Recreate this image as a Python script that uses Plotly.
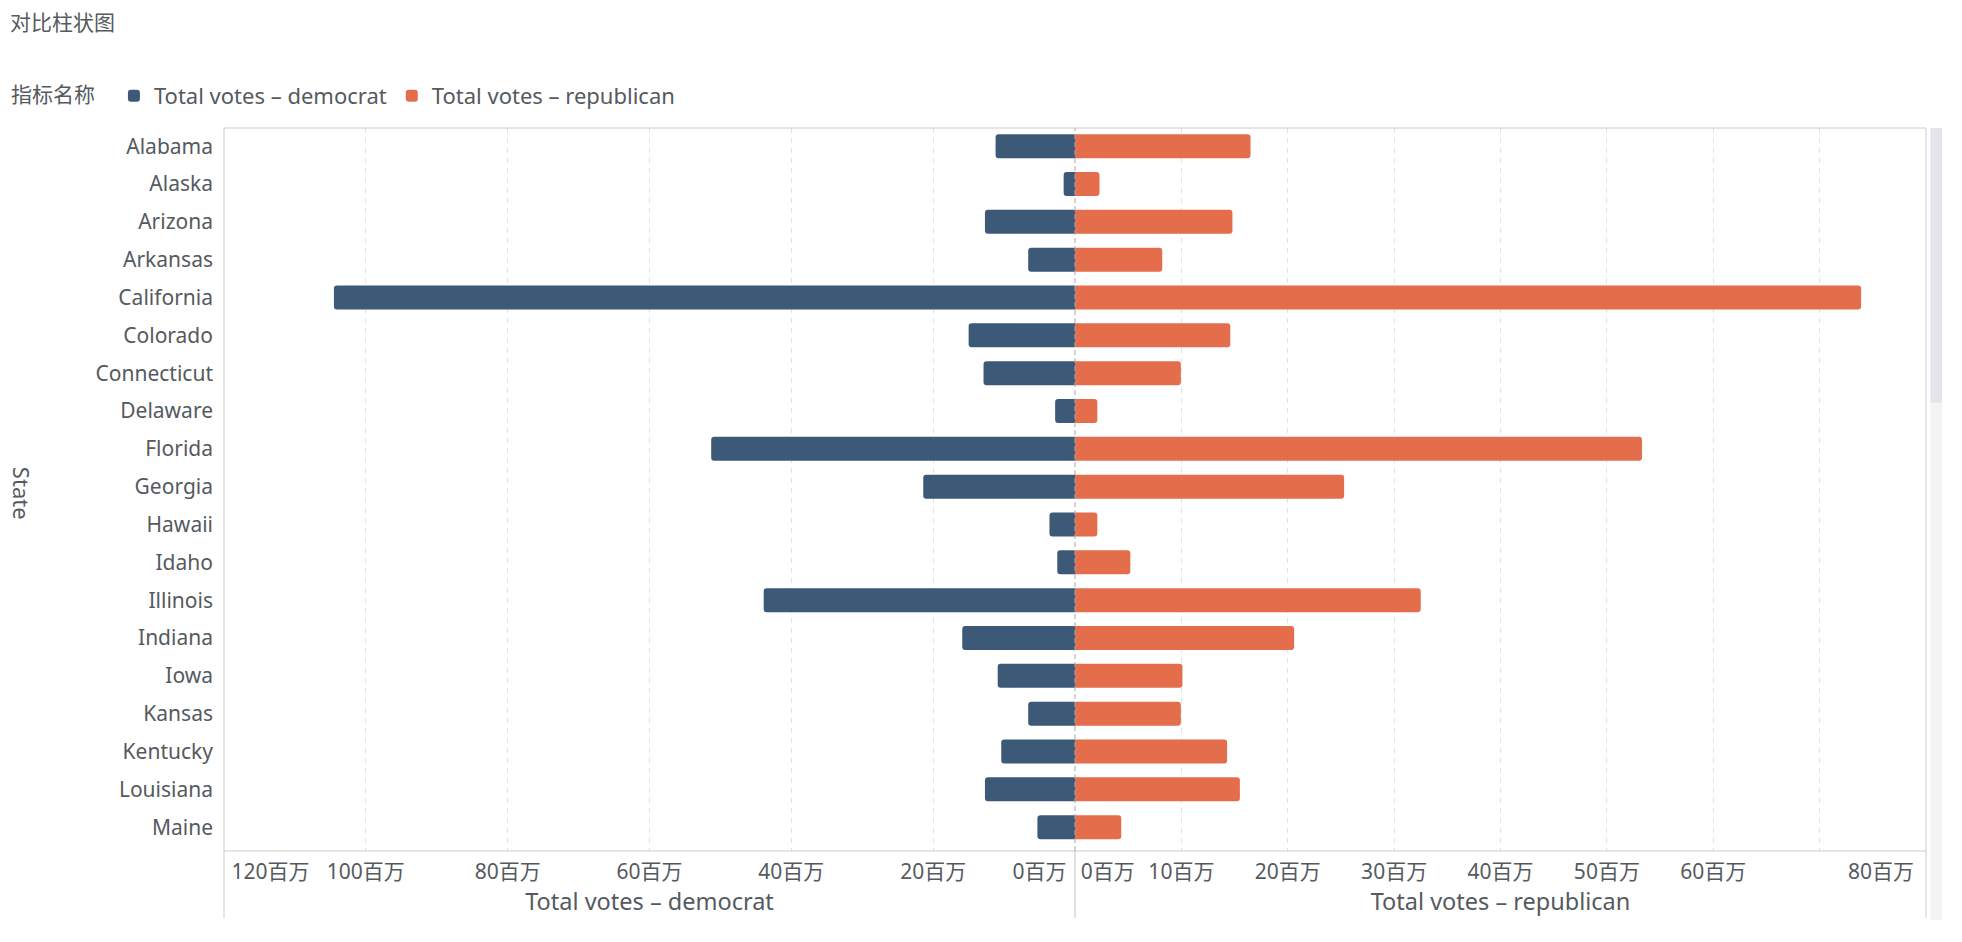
import plotly.graph_objects as go

# ---------------- data (values in millions of votes) ----------------
states = ["Alabama", "Alaska", "Arizona", "Arkansas", "California", "Colorado",
          "Connecticut", "Delaware", "Florida", "Georgia", "Hawaii", "Idaho",
          "Illinois", "Indiana", "Iowa", "Kansas", "Kentucky", "Louisiana", "Maine"]
dem_votes_m = [11.2, 1.6, 12.7, 6.6, 104.5, 15.0, 12.9, 2.8, 51.3, 21.4, 3.6, 2.5,
               43.9, 15.9, 10.9, 6.6, 10.4, 12.7, 5.3]
rep_votes_m = [16.5, 2.3, 14.8, 8.2, 73.9, 14.6, 9.95, 2.1, 53.3, 25.3, 2.1, 5.2,
               32.5, 20.6, 10.1, 9.95, 14.3, 15.5, 4.35]

left_ticks = [0, 20, 40, 60, 80, 100, 120]
right_ticks = [0, 10, 20, 30, 40, 50, 60, 70, 80]
unit = "百万"

series_names = ["Total votes – democrat", "Total votes – republican"]
colors = ["#3c5a77", "#e46d4b"]

FONT = "Noto Sans, Noto Sans CJK SC, sans-serif"
TXT = "#555a60"
NB = "\u00a0"


def lbl(v):
    return f"{v}{unit}"


# tick labels; the end labels are nudged inside the panel like the original
left_text = [lbl(v) for v in left_ticks]
left_text[0] = lbl(0) + NB * 13
left_text[-1] = NB * 17 + lbl(120)
right_text = [lbl(v) for v in right_ticks]
right_text[0] = NB * 12 + lbl(0)
right_text[-2] = ""          # 70 label is hidden in the original
right_text[-1] = ""          # 80 label drawn by the overlay axis below

fig = go.Figure()
fig.add_trace(go.Bar(
    y=states, x=dem_votes_m, orientation="h", name=series_names[0],
    marker=dict(color=colors[0], cornerradius=3, line=dict(width=0)),
    xaxis="x", yaxis="y"))
fig.add_trace(go.Bar(
    y=states, x=rep_votes_m, orientation="h", name=series_names[1],
    marker=dict(color=colors[1], cornerradius=3, line=dict(width=0)),
    xaxis="x2", yaxis="y"))
# empty helper trace so the overlay axis (end label "80百万") gets drawn
fig.add_trace(go.Scatter(x=[], y=[], xaxis="x3", yaxis="y", showlegend=False,
                         hoverinfo="skip", mode="markers"))

axis_common = dict(
    showgrid=True, gridcolor="#e2e2e2", griddash="5px,5px", gridwidth=1,
    zeroline=False, showline=False, ticks="", ticklabelstandoff=6,
    ticklabeloverflow="allow",
    tickfont=dict(family=FONT, size=21, color=TXT),
    fixedrange=True,
)

below = -0.0927  # frame lines run down past the tick labels

fig.update_layout(
    width=1962, height=942,
    margin=dict(l=224, r=36, t=128, b=91, autoexpand=False),
    paper_bgcolor="white", plot_bgcolor="white",
    font=dict(family=FONT, size=21, color=TXT),
    bargap=0.365,
    showlegend=True,
    title=dict(text="对比柱状图", x=10 / 1962, xref="container", xanchor="left",
               y=1 - 23 / 942, yref="container", yanchor="middle",
               font=dict(family=FONT, size=21, color=TXT)),
    legend=dict(orientation="h", x=9 / 1962, xref="container", xanchor="left",
                y=1 - 96 / 942, yref="container", yanchor="middle",
                title=dict(text="指标名称" + NB * 2, side="left",
                           font=dict(family=FONT, size=21, color=TXT)),
                font=dict(family=FONT, size=22, color=TXT),
                traceorder="normal", itemclick=False, itemdoubleclick=False),
    xaxis=dict(domain=[0, 0.5], range=[120, 0], tickmode="array",
               tickvals=left_ticks, ticktext=left_text, anchor="y",
               title=dict(text=series_names[0], standoff=2,
                          font=dict(family=FONT, size=23.5, color=TXT)),
               **axis_common),
    xaxis2=dict(domain=[0.5, 1], range=[0, 80], tickmode="array",
                tickvals=right_ticks, ticktext=right_text, anchor="y",
                title=dict(text=series_names[1], standoff=2,
                           font=dict(family=FONT, size=23.5, color=TXT)),
                **axis_common),
    xaxis3=dict(visible=True, domain=[0.5, 1], range=[0, 80], overlaying="x2",
                anchor="y", side="bottom", tickmode="array",
                tickvals=[right_ticks[-1]], ticktext=[lbl(right_ticks[-1])],
                ticklabelshift=-45, showticklabels=True,
                showgrid=False, zeroline=False, showline=False, ticks="",
                ticklabelstandoff=6, ticklabeloverflow="allow",
                tickfont=dict(family=FONT, size=21, color=TXT), fixedrange=True),
    yaxis=dict(range=[18.63, -0.48], anchor="x", showgrid=False, zeroline=False,
               showline=False, ticks="", ticklabelstandoff=10,
               tickfont=dict(family=FONT, size=21, color=TXT), fixedrange=True),
    annotations=[dict(text="State", textangle=90, x=-0.1187, y=0.494,
                      xref="paper", yref="paper", xanchor="center", yanchor="middle",
                      showarrow=False,
                      font=dict(family=FONT, size=22, color=TXT))],
    shapes=[
        # plot frame
        dict(type="line", xref="paper", yref="paper", x0=0, x1=1, y0=1, y1=1,
             line=dict(color="#cccccc", width=1)),
        dict(type="line", xref="paper", yref="paper", x0=0, x1=1, y0=0, y1=0,
             line=dict(color="#cccccc", width=1)),
        dict(type="line", xref="paper", yref="paper", x0=0, x1=0, y0=below, y1=1,
             line=dict(color="#cccccc", width=1)),
        dict(type="line", xref="paper", yref="paper", x0=1, x1=1, y0=below, y1=1,
             line=dict(color="#cccccc", width=1)),
        dict(type="line", xref="paper", yref="paper", x0=0.5, x1=0.5, y0=below, y1=0,
             line=dict(color="#c4c4c4", width=1)),
        dict(type="line", xref="paper", yref="paper", x0=0.5, x1=0.5, y0=0, y1=1,
             line=dict(color="#a8a8a8", width=1, dash="5px,3px"), layer="above"),
        # scrollbar track and thumb
        dict(type="rect", xref="paper", yref="paper", x0=1.0026, x1=1.0094,
             y0=-0.0954, y1=1, fillcolor="#f4f4f6", line=dict(width=0)),
        dict(type="rect", xref="paper", yref="paper", x0=1.0026, x1=1.0094,
             y0=0.62, y1=1, fillcolor="#e4e4ea", line=dict(width=0)),
    ],
)

fig.write_html("out.html", config={"displayModeBar": False})
